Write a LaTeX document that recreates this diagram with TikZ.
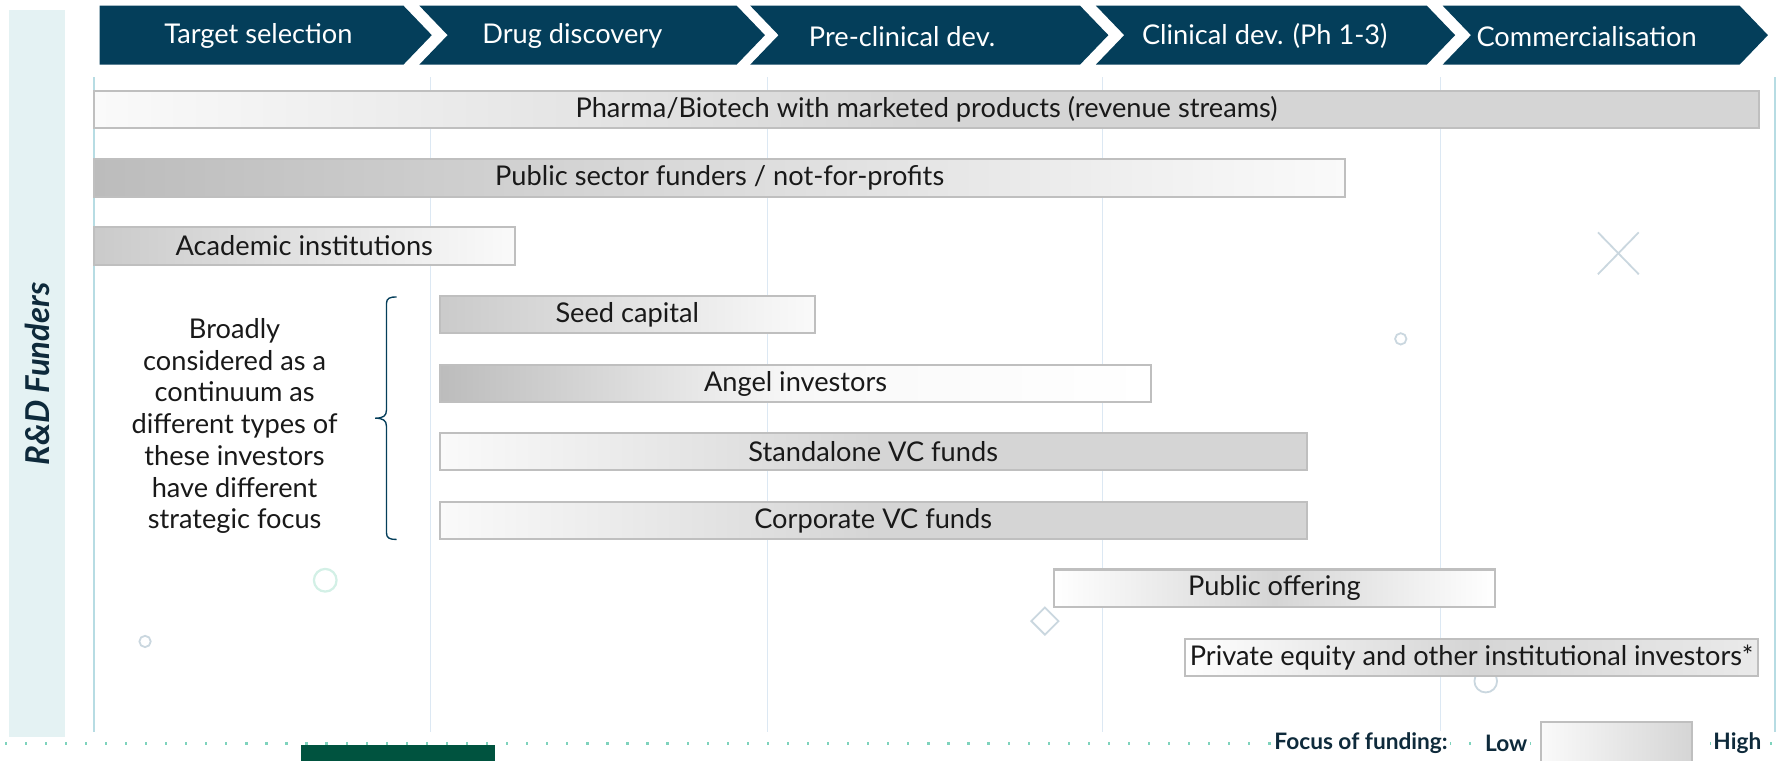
\documentclass[tikz,border=0pt]{standalone}
\usepackage{fontspec}
\setmainfont{Lato}
\definecolor{phasec}{HTML}{043E5A}
\definecolor{panelc}{HTML}{E4F2F3}
\definecolor{navy}{HTML}{0E2A3B}
\definecolor{barline}{HTML}{BFBFBF}
\definecolor{gridc}{HTML}{DCE8F3}
\definecolor{gridteal}{HTML}{B7DCE3}
\definecolor{dotc}{HTML}{7FD3BD}
\definecolor{greenc}{HTML}{00533F}
\definecolor{decoc}{HTML}{CAD7DF}
\definecolor{decog}{HTML}{D3F0E6}
\definecolor{wh}{HTML}{FAFAFA}
\definecolor{gr}{HTML}{D5D5D5}
\definecolor{gd}{HTML}{BCBCBC}
\tikzset{
  phasebox/.style={fill=phasec},
  phasetxt/.style={text=white, font=\fontsize{12}{14}\selectfont},
  bar/.style={draw=barline, line width=0.9pt, minimum height=16.5pt, inner sep=0pt,
    font=\fontsize{12}{14}\selectfont, text=black!90},
  gridline/.style={draw=gridc, line width=0.6pt},
  gridedge/.style={draw=gridteal, line width=1pt},
  deco/.style={draw=decoc, line width=0.8pt},
  decogreen/.style={draw=decog, line width=1pt},
  legtxt/.style={font=\bfseries\fontsize{10}{12}\selectfont, text=navy, fill=white, inner sep=1pt},
  bracec/.style={draw=phasec, line width=0.6pt},
}
\begin{document}
\begin{tikzpicture}[x=0.5pt,y=-0.5pt]
\useasboundingbox (0,0) rectangle (1568,671);
% left panel
\fill[panelc] (8,9) rectangle (57,650);
\node[rotate=90, font=\bfseries\itshape\fontsize{14.5}{16}\selectfont, text=navy] (rd) at (33,330) {R\&D Funders};
% phase chevrons
\fill[phasebox] (88,5) -- (356,5) -- (381,31) -- (356,57) -- (88,57) -- cycle;
\fill[phasebox] (370,5) -- (650,5) -- (675,31) -- (650,57) -- (370,57) -- (395,31) -- cycle;
\fill[phasebox] (662,5) -- (953,5) -- (978,31) -- (953,57) -- (662,57) -- (687,31) -- cycle;
\fill[phasebox] (967,5) -- (1259,5) -- (1284,31) -- (1259,57) -- (967,57) -- (992,31) -- cycle;
\fill[phasebox] (1273,5) -- (1535,5) -- (1560,31) -- (1535,57) -- (1273,57) -- (1298,31) -- cycle;
\node[phasetxt] (p1) at (228,32) {Target selection};
\node[phasetxt] (p2) at (505,32) {Drug discovery};
\node[phasetxt] (p3) at (796,32) {Pre-clinical dev.};
\node[phasetxt] (p4) at (1116,32) {Clinical dev. (Ph 1-3)};
\node[phasetxt] (p5) at (1400,32) {Commercialisation};
% grid lines
\draw[gridline] (380,68) -- (380,646);
\draw[gridline] (677,68) -- (677,646);
\draw[gridline] (973,68) -- (973,646);
\draw[gridline] (1271,68) -- (1271,646);
\draw[gridedge] (83,68) -- (83,646);
\draw[gridedge] (1566,68) -- (1566,646);
% decorations
\draw[decogreen] (287,512) circle[radius=10];
\draw[deco] (128,566) circle[radius=5];
\draw[deco] (1236,299) circle[radius=5];
\draw[deco] (1311,601) circle[radius=10];
\draw[deco] (910,548) -- (922,536) -- (934,548) -- (922,560) -- cycle;
\draw[deco] (1410,205) -- (1446,242) (1410,242) -- (1446,205);
% bars
\node[bar, minimum width=734.5pt, left color=wh, right color=gr, middle color=gr] (pharma) at (817.5,96.5) {Pharma/Biotech with marketed products (revenue streams)};
\node[bar, minimum width=552pt, left color=gd, right color=wh, middle color=gr!85] (public) at (635,157) {Public sector funders / not-for-profits};
\node[bar, minimum width=185.5pt, left color=gr!95!black, right color=wh] (academic) at (268.5,217) {Academic institutions};
\node[bar, minimum width=165.5pt, left color=gr!95!black, right color=wh] (seed) at (553.5,277.5) {Seed capital};
\node[bar, minimum width=314pt, left color=gd, right color=white, middle color=wh!95!gr] (angel) at (702,338.5) {Angel investors};
\node[bar, minimum width=382.5pt, left color=wh, right color=gr, middle color=gr] (standalone) at (770.5,398.5) {Standalone VC funds};
\node[bar, minimum width=382.5pt, left color=wh, right color=gr, middle color=gr] (corporate) at (770.5,459.5) {Corporate VC funds};
\node[bar, minimum width=194.5pt, left color=white, right color=white, middle color=gr] (offering) at (1124.5,519) {Public offering};
\node[bar, minimum width=252.5pt, left color=white, right color=gr!50, middle color=gr] (pe) at (1298.5,580) {Private equity and other institutional investors*};
% brace and note
\draw[bracec] (350,262) .. controls (344,262) and (341,263) .. (341,268) -- (341,362)
  .. controls (341,367) and (338,369) .. (331,369)
  .. controls (338,369) and (341,371) .. (341,376) -- (341,470)
  .. controls (341,475) and (344,476) .. (350,476);
\node[align=center, font=\fontsize{12}{14}\selectfont, text=black!90] (note) at (207,376)
  {Broadly\\considered as a\\continuum as\\different types of\\these investors\\have different\\strategic focus};
% bottom strip
\fill[greenc] (266,657) rectangle (437,675);
\foreach \i in {0,...,88} \fill[dotc] ({4+17.7*\i},655) rectangle ++(2,2);
% legend
\node[legtxt] (focus) at (1201,656) {Focus of funding:};
\node[legtxt] (low) at (1329,656) {Low};
\node[draw=barline, line width=0.9pt, minimum width=66.5pt, minimum height=17.5pt, inner sep=0pt, left color=wh, right color=gr] (lbox) at (1426.5,654.5) {};
\node[legtxt] (high) at (1533,656) {High};
\end{tikzpicture}
\end{document}
